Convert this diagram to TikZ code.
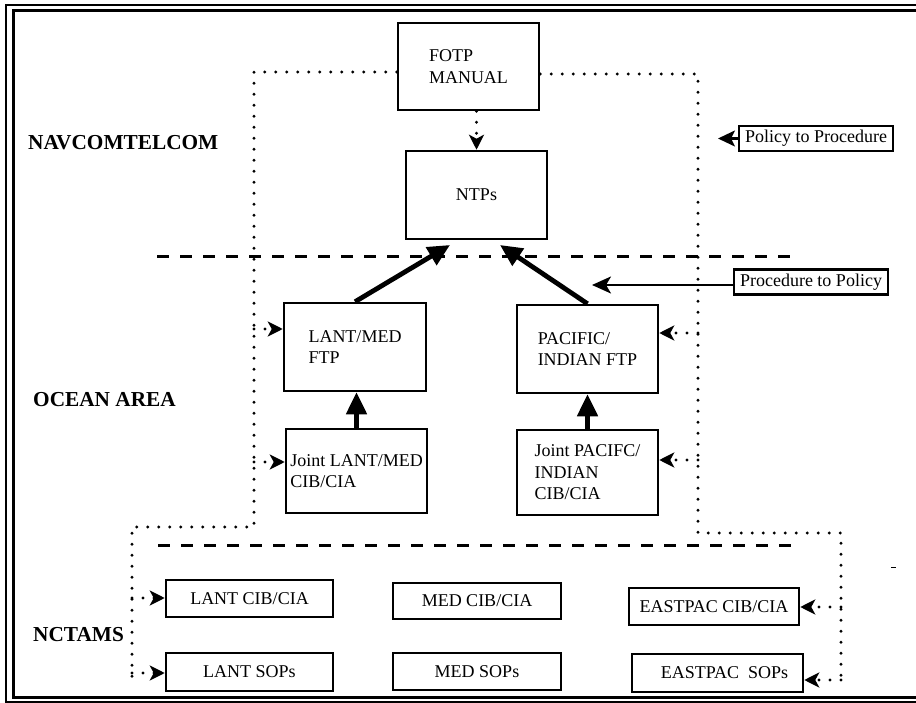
\documentclass[tikz,border=0pt]{standalone}
\usepackage{fontspec}
\setmainfont{Liberation Serif}
\usetikzlibrary{arrows.meta,calc}
\begin{document}
\begin{tikzpicture}[x=1pt,y=-1pt,
  mainbox/.style={draw,line width=2.5pt,inner sep=0pt,font=\fontsize{18}{21.5}\selectfont,align=left},
  smallbox/.style={draw,line width=2.5pt,inner sep=0pt,font=\fontsize{18}{21.5}\selectfont},
  notebox/.style={draw,line width=2.3pt,inner sep=0pt,font=\fontsize{18}{21.5}\selectfont,minimum height=25pt,minimum width=154pt},
  lvl/.style={anchor=west,inner sep=0pt,font=\fontsize{21.3}{24}\selectfont\bfseries},
  dotline/.style={line width=3.4pt,dash pattern=on 0pt off 11pt,line cap=round},
  dotarrow/.style={dotline,-{Stealth[length=15pt,width=15pt,inset=4pt]}},
  thickarrow/.style={line width=4.8pt,-{Triangle[length=22pt,width=20pt]}},
  dashline/.style={line width=3pt,dash pattern=on 12pt off 11pt}
]
\useasboundingbox (0,0) rectangle (916,703);
% frame (open on the right, cropped)
\draw[line width=2pt] (940,5.5) -- (5.5,5.5) -- (5.5,701.5) -- (940,701.5);
\draw[line width=3pt] (940,10.5) -- (13.5,10.5) -- (13.5,697.5) -- (940,697.5);

% level labels
\node[lvl] (navl) at (28,143) {NAVCOMTELCOM};
\node[lvl] (ocl) at (33,400) {OCEAN AREA};
\node[lvl] (ncl) at (33,635) {NCTAMS};

% main boxes
\node[mainbox,minimum width=141pt,minimum height=87pt] (fotp) at (468.5,66.5) {FOTP\\MANUAL};
\node[mainbox,minimum width=141pt,minimum height=88pt,align=center] (ntps) at (476.5,195) {NTPs};
\node[mainbox,minimum width=142pt,minimum height=88pt] (lftp) at (355,347) {LANT/MED\\FTP};
\node[mainbox,minimum width=141pt,minimum height=84pt] (jlant) at (356.5,471) {Joint LANT/MED\\CIB/CIA};
\node[mainbox,minimum width=141pt,minimum height=88pt] (pftp) at (587.5,349) {PACIFIC/\\INDIAN FTP};
\node[mainbox,minimum width=141pt,minimum height=85pt] (jpac) at (587.5,472.5) {Joint PACIFC/\\INDIAN\\CIB/CIA};

% NCTAMS boxes
\node[smallbox,minimum width=167pt,minimum height=37pt] (lcib) at (249.5,598.5) {LANT CIB/CIA};
\node[smallbox,minimum width=167pt,minimum height=38pt] (lsop) at (249.5,672) {LANT SOPs};
\node[smallbox,minimum width=168pt,minimum height=36pt] (mcib) at (477,601) {MED CIB/CIA};
\node[smallbox,minimum width=168pt,minimum height=37pt] (msop) at (477,671.5) {MED SOPs};
\node[smallbox,minimum width=170pt,minimum height=37pt] (ecib) at (714,606.5) {EASTPAC CIB/CIA};
\node[smallbox,minimum width=171pt,minimum height=38pt] (esop) at (717.5,673) {\hspace*{14pt}EASTPAC\ \ SOPs};

% note boxes
\node[notebox] (polb) at (816,138.5) {Policy to Procedure};
\node[notebox] (prob) at (811,282) {Procedure to Policy};

% dashed separators
\coordinate (d1a) at (157,257); \coordinate (d1b) at (799,257);
\coordinate (d2a) at (158,545); \coordinate (d2b) at (796,545);
\draw[dashline] (d1a) -- (d1b);
\draw[dashline] (d2a) -- (d2b);

% dotted distribution paths
\coordinate (lt) at (254,72); \coordinate (lb) at (254,527);
\coordinate (nl) at (132,527); \coordinate (nb) at (132,682);
\draw[dotline] (fotp.west |- lt) -- (lt) -- (lb) -- (nl) -- (nb);
\coordinate (rt) at (698,74); \coordinate (rb) at (698,533);
\coordinate (er) at (841,533); \coordinate (eb) at (841,682);
\draw[dotline] (fotp.east |- rt) -- (rt) -- (rb) -- (er) -- (eb);

% dotted arrows
\draw[dotarrow] (fotp.south -| ntps.north) -- (ntps.north);
\coordinate (a1) at (254,329); \draw[dotarrow] (a1) -- (a1 -| lftp.west);
\coordinate (a2) at (254,462); \draw[dotarrow] (a2) -- (a2 -| jlant.west);
\coordinate (a3) at (698,333); \draw[dotarrow] (a3) -- (a3 -| pftp.east);
\coordinate (a4) at (698,460); \draw[dotarrow] (a4) -- (a4 -| jpac.east);
\coordinate (a5) at (132,598); \draw[dotarrow] (a5) -- (a5 -| lcib.west);
\coordinate (a6) at (132,673); \draw[dotarrow] (a6) -- (a6 -| lsop.west);
\coordinate (a7) at (841,607); \draw[dotarrow] (a7) -- (a7 -| ecib.east);
\coordinate (a8) at (841,680); \draw[dotarrow] (a8) -- (a8 -| esop.east);

% thick arrows
\coordinate (t1) at (450,245); \coordinate (t2) at (500,245);
\draw[thickarrow] (lftp.north) -- (t1);
\draw[thickarrow] (pftp.north) -- (t2);
\draw[thickarrow] (jlant.north) -- (jlant.north |- lftp.south);
\draw[thickarrow] (jpac.north) -- (jpac.north |- pftp.south);

% note arrows
\coordinate (pp) at (718,138.5);
\draw[line width=2.3pt,-{Stealth[length=17pt,width=16pt,inset=4pt]}] (polb.west) -- (pp);
\coordinate (pt) at (592,285);
\draw[line width=2.3pt,-{Stealth[length=19pt,width=17pt,inset=5pt]}] (prob.west |- pt) -- (pt);

% stray mark
\coordinate (sm1) at (891,567); \coordinate (sm2) at (896,567);
\draw[line width=1pt] (sm1) -- (sm2);
\end{tikzpicture}
\end{document}
